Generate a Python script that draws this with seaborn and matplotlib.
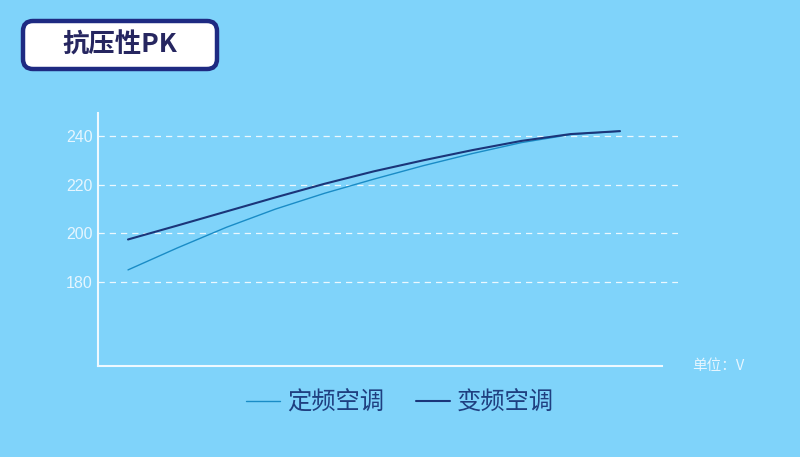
import pandas as pd
import matplotlib
matplotlib.use("Agg")
import matplotlib.pyplot as plt
from matplotlib.patches import FancyBboxPatch
import seaborn as sns

# data (11 evenly spaced sample points)
steps = list(range(11))
fixed_freq = [185.0, 194.0, 202.5, 210.0, 216.5, 222.3, 227.8, 232.8, 237.3, 240.6, 242.0]
inverter = [197.5, 203.2, 209.0, 214.8, 220.4, 225.5, 230.0, 234.2, 238.0, 240.8, 242.0]
series_names = ["定频空调", "变频空调"]
y_ticks = [180, 200, 220, 240]
title = "抗压性PK"
unit_label = "单位：V"

bg = "#7fd3fa"
light_col = "#1a8cc6"
dark_col = "#1b3579"
navy = "#1e2a82"

sns.set_style("white", {"axes.facecolor": bg, "figure.facecolor": bg})
plt.rcParams["font.family"] = ["Noto Sans CJK SC", "DejaVu Sans"]

df = pd.DataFrame({
    "x": steps + steps,
    "value": fixed_freq + inverter,
    "series": [series_names[0]] * len(steps) + [series_names[1]] * len(steps),
})

fig = plt.figure(figsize=(8, 4.57), dpi=100)
ax = fig.add_axes([0.1225, 0.199, 0.725, 0.554])

sns.lineplot(data=df, x="x", y="value", hue="series",
             palette={series_names[0]: light_col, series_names[1]: dark_col},
             ax=ax, legend=False)
ax.lines[0].set_linewidth(1.0)
ax.lines[1].set_linewidth(1.5)

ax.set_xlim(-0.61, 11.18)
ax.set_ylim(145.5, 249.5)
ax.set_yticks(y_ticks)
ax.set_xticks([])
ax.set_xlabel("")
ax.set_ylabel("")
ax.tick_params(axis="y", length=0, pad=4, labelcolor="#e6f6ff")
for lab in ax.get_yticklabels():
    lab.set_fontfamily("Liberation Sans")
    lab.set_fontsize(11.5)
ax.yaxis.grid(True, color="white", linestyle=(0, (5, 4)), linewidth=0.9, alpha=0.85)
ax.set_axisbelow(True)

for side in ["top", "right"]:
    ax.spines[side].set_visible(False)
for side in ["left", "bottom"]:
    ax.spines[side].set_color("#eef9ff")
    ax.spines[side].set_linewidth(1.5)
ax.spines["bottom"].set_bounds(-0.61, 10.85)

fig.text(692 / 800, 1 - 366 / 457, unit_label, color="#e6f6ff", fontsize=10.5,
         ha="left", va="center")

# legend
handles = [plt.Line2D([], [], color=light_col, lw=1.0),
           plt.Line2D([], [], color=dark_col, lw=1.5)]
leg = fig.legend(handles, series_names, loc="center", ncol=2,
                 bbox_to_anchor=(0.5, 1 - 403 / 457), frameon=False,
                 fontsize=17.5, handlelength=1.4, handletextpad=0.3,
                 columnspacing=1.3)
for t in leg.get_texts():
    t.set_color("#1f3f80")

# title box
box = FancyBboxPatch((0.23, 3.88), 1.94, 0.48,
                     boxstyle="round,pad=0,rounding_size=0.1",
                     transform=fig.dpi_scale_trans,
                     facecolor="white", edgecolor=navy, linewidth=3.2)
fig.patches.append(box)
fig.text(0.23 + 1.94 / 2, 3.88 + 0.24, title, transform=fig.dpi_scale_trans,
         ha="center", va="center", fontsize=19, fontweight="bold",
         color="#262660")

fig.savefig("out.png", dpi=100, facecolor=bg)
